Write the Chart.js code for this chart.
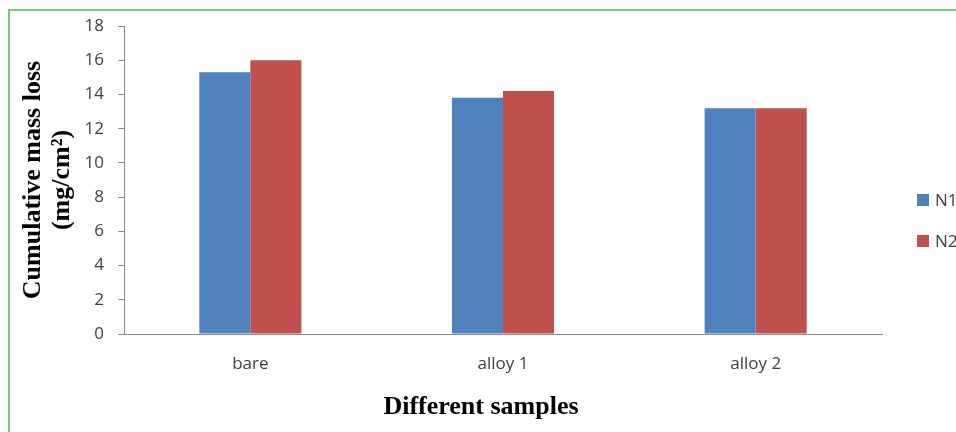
<!DOCTYPE html>
<html>
<head>
<meta charset="utf-8">
<script src="https://cdn.jsdelivr.net/npm/chart.js@4.4.1/dist/chart.umd.min.js"></script>
<style>
  html, body { margin: 0; padding: 0; background: #fff; width: 956px; height: 432px; overflow: hidden; }
  #frame { position: absolute; left: 8px; top: 9px; width: 1000px; height: 500px; border: 2px solid #7cc67c; box-sizing: border-box; }
  #c { position: absolute; left: 0; top: 0; }
</style>
</head>
<body>
<div id="frame"></div>
<canvas id="c" width="956" height="432"></canvas>
<script>
// Cumulative mass loss per sample, two test conditions
const categories = ['bare', 'alloy 1', 'alloy 2'];
const seriesNames = ['N1', 'N2'];
const n1Values = [15.3, 13.8, 13.2];
const n2Values = [16.0, 14.2, 13.2];
const seriesColors = ['#4f81bd', '#c0504d'];
const yMin = 0, yMax = 18, yStep = 2;
const yTitle = ['Cumulative mass loss', '(mg/cm\u00B2)'];
const xTitle = 'Different samples';

const tickFont = { family: '"Open Sans", sans-serif', size: 17 };
const serif = '"Liberation Serif", "Times New Roman", serif';
const titleFont = { family: serif, size: 26, weight: 'bold', lineHeight: 1.12 };
const axisGray = '#8a8a8a';

// Legend beside the plot area and the category-axis caption
const sideLegend = {
  id: 'sideLegend',
  afterDraw(chart) {
    const ctx = chart.ctx;
    const x = chart.chartArea.right + 35;
    const top = 200;
    const gap = 41;
    ctx.save();
    ctx.font = '17px "Open Sans", sans-serif';
    ctx.textBaseline = 'middle';
    ctx.textAlign = 'left';
    chart.data.datasets.forEach((ds, i) => {
      const cy = top + i * gap;
      ctx.fillStyle = ds.backgroundColor;
      ctx.fillRect(x, cy - 6, 12, 12);
      ctx.fillStyle = '#404040';
      ctx.fillText(ds.label, x + 18, cy + 1);
    });
    // caption under the category axis
    ctx.font = 'bold 26px ' + serif;
    ctx.fillStyle = '#000';
    ctx.textAlign = 'center';
    ctx.fillText(xTitle, chart.chartArea.left + 357, chart.chartArea.bottom + 73);
    ctx.restore();
  }
};

new Chart(document.getElementById('c'), {
  type: 'bar',
  data: {
    labels: categories,
    datasets: [
      { label: seriesNames[0], data: n1Values, backgroundColor: seriesColors[0] },
      { label: seriesNames[1], data: n2Values, backgroundColor: seriesColors[1] }
    ]
  },
  options: {
    responsive: false,
    animation: false,
    devicePixelRatio: 1,
    layout: { padding: { left: 0, top: 26, right: 74, bottom: 0 } },
    datasets: { bar: { categoryPercentage: 0.404, barPercentage: 1.0, borderWidth: 0 } },
    plugins: { legend: { display: false }, tooltip: { enabled: false } },
    scales: {
      x: {
        afterFit(scale) { scale.height = 98; },
        grid: { display: false, drawTicks: false },
        border: { display: true, color: axisGray, width: 1 },
        ticks: { color: '#404040', font: tickFont, padding: 20 },
        title: { display: false }
      },
      y: {
        min: yMin, max: yMax,
        afterFit(scale) { scale.width = 124; },
        grid: { drawOnChartArea: false, drawTicks: true, tickLength: 6, color: axisGray },
        border: { display: true, color: axisGray, width: 1 },
        ticks: { stepSize: yStep, color: '#404040', font: tickFont, padding: 14 },
        title: { display: true, text: yTitle, color: '#000', font: titleFont, padding: { top: 19, bottom: 0 } }
      }
    }
  },
  plugins: [sideLegend]
});
</script>
</body>
</html>
